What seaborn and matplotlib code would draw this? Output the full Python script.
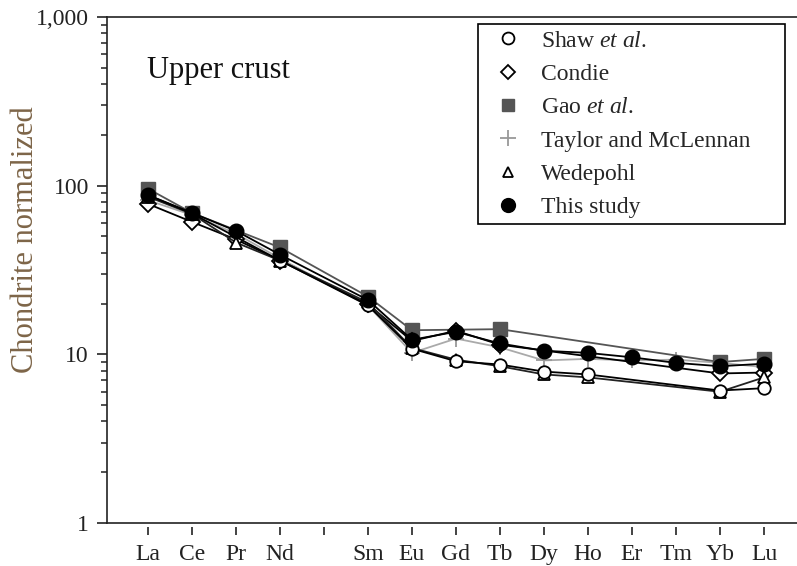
import numpy as np
import pandas as pd
import matplotlib
matplotlib.use('Agg')
import matplotlib.pyplot as plt
from matplotlib.lines import Line2D
from matplotlib.ticker import FixedLocator, FuncFormatter, LogLocator
import seaborn as sns

nan = np.nan

# REE, with an empty slot for Pm.
elements = ['La', 'Ce', 'Pr', 'Nd', 'Pm', 'Sm', 'Eu', 'Gd', 'Tb', 'Dy', 'Ho', 'Er', 'Tm', 'Yb', 'Lu']
tickLabels = ['La', 'Ce', 'Pr', 'Nd', '', 'Sm', 'Eu', 'Gd', 'Tb', 'Dy', 'Ho', 'Er', 'Tm', 'Yb', 'Lu']

# Chondrite normalized values.
shaw = [88, 68.5, nan, 36, nan, 19.5, 10.8, 9.1, 8.7, 7.9, 7.6, nan, nan, 6.1, 6.3]
condie = [78, 61, 48, 36, nan, 19.8, 12.0, 13.8, 11.4, nan, nan, nan, nan, 7.7, 7.8]
gao = [96, 69, nan, 43, nan, 22, 13.9, nan, 14.1, nan, nan, nan, nan, 9.0, 9.4]
taylor = [82, 67, 52, 37, nan, 19.5, 10.2, 12.4, 11.0, 9.2, 9.4, 9.2, 9.3, 8.9, 8.4]
wedepohl = [86, 68, 46, 36, nan, 20.3, 10.9, 9.3, 8.5, 7.6, 7.3, nan, nan, 6.0, 7.3]
thisStudy = [88, 69, 54, 39, nan, 21, 12.2, 13.6, 11.6, 10.5, 10.2, 9.6, 8.9, 8.5, 8.8]

series = [
  ('Shaw $et\\ al.$', shaw),
  ('Condie', condie),
  ('Gao $et\\ al.$', gao),
  ('Taylor and McLennan', taylor),
  ('Wedepohl', wedepohl),
  ('This study', thisStudy),
]

# Marker styles per series.
styles = {
  'Shaw $et\\ al.$': dict(marker='o', ms=9, mfc='white', mec='black', mew=1.3, color='black', zorder=4),
  'Condie': dict(marker='D', ms=8, mfc='white', mec='black', mew=1.3, color='black', zorder=3),
  'Gao $et\\ al.$': dict(marker='s', ms=9.5, mfc='#555555', mec='#555555', mew=1.0, color='#555555', zorder=2),
  'Taylor and McLennan': dict(marker='+', ms=12, mfc='none', mec='#999999', mew=1.3, color='#aaaaaa', zorder=1),
  'Wedepohl': dict(marker='^', ms=8, mfc='white', mec='black', mew=1.3, color='#222222', zorder=3),
  'This study': dict(marker='o', ms=10.5, mfc='black', mec='black', mew=1.0, color='black', zorder=5),
}

sns.set_style('ticks')
plt.rcParams['font.family'] = ['Liberation Serif', 'DejaVu Serif']
plt.rcParams['mathtext.fontset'] = 'custom'
plt.rcParams['mathtext.rm'] = 'Liberation Serif'
plt.rcParams['mathtext.it'] = 'Liberation Serif:italic'

fig = plt.figure(figsize=(7.97, 5.66), dpi=100)
ax = fig.add_axes([107 / 797, 43 / 566, 1 - 107 / 797, 506 / 566])

# Plotting.
xpos = np.arange(len(elements))
for name, vals in series:
  df = pd.DataFrame({'x': xpos, 'y': vals}).dropna()
  st = styles[name]
  sns.lineplot(data=df, x='x', y='y', ax=ax, estimator=None, errorbar=None,
               color=st['color'], linewidth=1.3, marker=st['marker'],
               markersize=st['ms'], markerfacecolor=st['mfc'],
               markeredgecolor=st['mec'], markeredgewidth=st['mew'],
               zorder=st['zorder'], legend=False)

# Axis setup.
ax.set_yscale('log')
ax.set_ylim(1, 1000)
ax.set_xlim(-0.93, 14.75)
ax.yaxis.set_major_locator(FixedLocator([1, 10, 100, 1000]))
ax.yaxis.set_minor_locator(LogLocator(base=10, subs=np.arange(2, 10)))
ax.yaxis.set_major_formatter(FuncFormatter(lambda v, p: '{:,.0f}'.format(v)))
ax.tick_params(axis='y', which='major', direction='out', length=7, width=1.2,
               labelsize=17, pad=6, colors='#222222')
ax.tick_params(axis='y', which='minor', direction='out', length=4.5, width=1.1, colors='#222222')
ax.tick_params(axis='x', bottom=False, labelbottom=False)
ax.set_xlabel('')
ax.set_ylabel('Chondrite normalized', fontsize=22, color='#7d6548')
ax.yaxis.set_label_coords(-0.097, 0.56)
for s in ['left', 'top', 'bottom']:
  ax.spines[s].set_linewidth(1.2)
  ax.spines[s].set_color('#222222')
ax.spines['right'].set_visible(False)

# Detached element ticks below the frame.
sec = ax.secondary_xaxis(-0.008)
sec.set_xticks(xpos)
sec.set_xticklabels(tickLabels)
sec.tick_params(direction='out', length=6, width=1.2, labelsize=17, pad=6, colors='#222222')
for s in sec.spines.values():
  s.set_visible(False)

ax.text(0.058, 0.879, 'Upper crust', transform=ax.transAxes, fontsize=22, color='#111111')

# Legend with markers only.
handles = []
for name, vals in series:
  st = styles[name]
  handles.append(Line2D([], [], linestyle='none', marker=st['marker'], markersize=st['ms'] * 0.95,
                        markerfacecolor=st['mfc'], markeredgecolor=st['mec'],
                        markeredgewidth=st['mew']))
x0 = (478 - 107) / 690
w = (785 - 478) / 690
leg = ax.legend(handles, [n for n, _ in series], loc='upper left', mode='expand',
                bbox_to_anchor=(x0, 0.3, w, 0.686), borderaxespad=0, fontsize=17,
                handlelength=2.0, handletextpad=0.4, borderpad=0.25,
                labelspacing=0.5, fancybox=False, framealpha=1)
leg.get_frame().set_edgecolor('black')
leg.get_frame().set_linewidth(1.2)

fig.savefig('out.png', dpi=100)
